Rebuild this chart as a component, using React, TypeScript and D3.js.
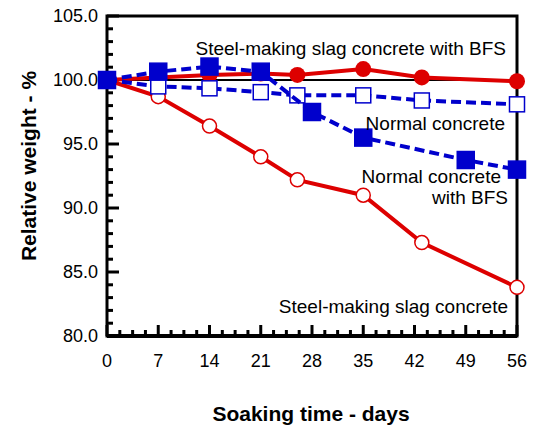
import React from "react";
import * as d3 from "d3";

const WIDTH = 535;
const HEIGHT = 428;
const RED = "#dd0000";
const BLUE = "#0000cc";
const FONT = "Liberation Sans, Arial, sans-serif";

// days of measurement for each series
const daysA = [0, 7, 14, 21, 26, 35, 43, 56];
const daysBfs = [0, 7, 14, 21, 28, 35, 49, 56];

const slagBfs = [100, 100.2, 100.4, 100.5, 100.4, 100.85, 100.2, 99.9];
const slag = [100, 98.7, 96.4, 94.0, 92.2, 91.0, 87.3, 83.8];
const normal = [100, 99.5, 99.35, 99.05, 98.8, 98.8, 98.4, 98.1];
const normalBfs = [100, 100.65, 101.05, 100.65, 97.5, 95.5, 93.75, 93.0];

const xTicks = [0, 7, 14, 21, 28, 35, 42, 49, 56];
const yTicks = [80, 85, 90, 95, 100, 105];

const M = { left: 107, top: 16, right: 517, bottom: 336 };

export default function App() {
  const x = d3.scaleLinear().domain([0, 56]).range([M.left, M.right]);
  const y = d3.scaleLinear().domain([80, 105]).range([M.bottom, M.top]);

  const line = d3
    .line<[number, number]>()
    .x((d) => x(d[0]))
    .y((d) => y(d[1]));

  const pts = (days: number[], vals: number[]) =>
    days.map((d, i) => [d, vals[i]] as [number, number]);

  const xMinor = d3.range(0, 56.01, 1.75);
  const yMinor = d3.range(80, 105.01, 1);

  const sq = (p: [number, number], s: number, fill: string, key: string) => (
    <rect
      key={key}
      x={x(p[0]) - s / 2}
      y={y(p[1]) - s / 2}
      width={s}
      height={s}
      fill={fill}
      stroke={BLUE}
      strokeWidth={1.5}
    />
  );

  return (
    <svg
      width={WIDTH}
      height={HEIGHT}
      style={{ position: "absolute", left: 0, top: 0, background: "#fff" }}
      fontFamily={FONT}
    >
      {/* minor / major ticks, pointing inward */}
      {xMinor.map((d) => (
        <line
          key={"xm" + d}
          x1={x(d)}
          x2={x(d)}
          y1={M.bottom}
          y2={M.bottom - (d % 7 === 0 ? 11 : 6)}
          stroke="#000"
          strokeWidth={3}
        />
      ))}
      {yMinor.map((v) => (
        <line
          key={"ym" + v}
          x1={M.left}
          x2={M.left + (v % 5 === 0 ? 12 : 6)}
          y1={y(v)}
          y2={y(v)}
          stroke="#000"
          strokeWidth={3}
        />
      ))}

      {/* frame */}
      <rect
        x={M.left}
        y={M.top}
        width={M.right - M.left}
        height={M.bottom - M.top}
        fill="none"
        stroke="#000"
        strokeWidth={3}
      />
      <line x1={M.left} x2={M.right} y1={M.bottom} y2={M.bottom} stroke="#000" strokeWidth={4} />

      {/* 100 % reference */}
      <line x1={M.left} x2={M.right} y1={y(100)} y2={y(100)} stroke="#000" strokeWidth={2} />

      {/* steel-making slag concrete */}
      <path d={line(pts(daysA, slag)) || ""} fill="none" stroke={RED} strokeWidth={4} />
      {pts(daysA, slag).map((p, i) => (
        <circle key={"s" + i} cx={x(p[0])} cy={y(p[1])} r={7} fill="#fff" stroke={RED} strokeWidth={1.5} />
      ))}

      {/* steel-making slag concrete with BFS */}
      <path d={line(pts(daysA, slagBfs)) || ""} fill="none" stroke={RED} strokeWidth={4} />
      {pts(daysA, slagBfs).map((p, i) => (
        <circle key={"sb" + i} cx={x(p[0])} cy={y(p[1])} r={8} fill={RED} />
      ))}

      {/* normal concrete */}
      <path
        d={line(pts(daysA, normal)) || ""}
        fill="none"
        stroke={BLUE}
        strokeWidth={4}
        strokeDasharray="10,5"
      />
      {pts(daysA, normal).map((p, i) => sq(p, 15, "#fff", "n" + i))}

      {/* normal concrete with BFS */}
      <path
        d={line(pts(daysBfs, normalBfs)) || ""}
        fill="none"
        stroke={BLUE}
        strokeWidth={4}
        strokeDasharray="10,5"
      />
      {pts(daysBfs, normalBfs).map((p, i) => sq(p, 17, BLUE, "nb" + i))}

      {/* tick labels */}
      {yTicks.map((v) => (
        <text
          key={"yl" + v}
          x={M.left - 9}
          y={y(v)}
          dy="0.35em"
          textAnchor="end"
          fontSize={18}
        >
          {v.toFixed(1)}
        </text>
      ))}
      {xTicks.map((d) => (
        <text key={"xl" + d} x={x(d)} y={367} textAnchor="middle" fontSize={18}>
          {d}
        </text>
      ))}

      {/* series labels */}
      <g fontSize={19} textAnchor="end">
        <text x={506} y={55}>Steel-making slag concrete with BFS</text>
        <text x={505} y={130}>Normal concrete</text>
        <text x={501} y={183}>Normal concrete</text>
        <text x={508} y={204}>with BFS</text>
        <text x={508} y={313}>Steel-making slag concrete</text>
      </g>

      {/* axis titles */}
      <text x={311} y={421} textAnchor="middle" fontSize={21} fontWeight="bold">
        Soaking time - days
      </text>
      <text
        transform={`translate(36,166) rotate(-90)`}
        textAnchor="middle"
        fontSize={21}
        fontWeight="bold"
      >
        Relative weight - %
      </text>
    </svg>
  );
}
